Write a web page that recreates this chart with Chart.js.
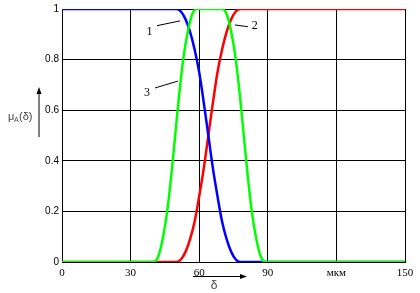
<!DOCTYPE html>
<html>
<head>
    <title>Membership functions</title>
    <script src="https://cdn.jsdelivr.net/npm/chart.js"></script>
    <style>
        body { margin: 0; background: #fff; }
        #wrap { width: 420px; height: 293px; }
    </style>
</head>
<body>
<div id="wrap"><canvas id="muChart" width="420" height="293"></canvas></div>
<script>
    // curve 1 (blue)
    const blueX = [0, 50, 52, 54, 56, 58, 60, 62, 64, 66, 68, 70, 72, 74, 76, 78, 150];
    const blueY = [1, 1, 0.99, 0.96, 0.91, 0.84, 0.75, 0.63, 0.5, 0.37, 0.26, 0.16, 0.09, 0.04, 0.01, 0, 0];
    // curve 2 (red)
    const redX = [0, 50, 52, 54, 56, 58, 60, 62, 64, 66, 68, 70, 72, 74, 76, 78, 150];
    const redY = [0, 0, 0.01, 0.04, 0.09, 0.16, 0.26, 0.37, 0.5, 0.63, 0.75, 0.84, 0.91, 0.96, 0.99, 1, 1];
    // curve 3 (green)
    const greenX = [0, 40, 42, 44, 46, 48, 49.5, 51, 53, 55, 57, 59, 70, 72, 74, 76, 78, 79.5, 81, 83, 85, 87, 89, 150];
    const greenY = [0, 0, 0.02, 0.09, 0.2, 0.36, 0.5, 0.64, 0.8, 0.91, 0.98, 1, 1, 0.98, 0.91, 0.8, 0.64, 0.5, 0.36, 0.2, 0.09, 0.02, 0, 0];

    const xTicks = [0, 30, 60, 90, 120, 150];
    const xTickLabels = ['0', '30', '60', '90', 'мкм', '150'];
    const yTicks = [0, 0.2, 0.4, 0.6, 0.8, 1];
    const yTickLabels = ['0', '0.2', '0.4', '0.6', '0.8', '1'];

    // curve labels with leader lines, in data units
    const curveNotes = [
        { text: '1', at: [38.3, 0.91], from: [41.5, 0.934], to: [51.6, 0.953] },
        { text: '2', at: [84.3, 0.935], from: [75.6, 0.937], to: [81.3, 0.93] },
        { text: '3', at: [37.2, 0.67], from: [40.7, 0.688], to: [50.7, 0.715] }
    ];

    const pts = (xs, ys) => xs.map((x, i) => ({ x: x, y: ys[i] }));

    const decor = {
        id: 'decor',
        afterDraw(chart) {
            const ctx = chart.ctx;
            const sx = chart.scales.x, sy = chart.scales.y;
            ctx.save();
            ctx.strokeStyle = '#000';
            ctx.fillStyle = '#000';
            ctx.lineWidth = 1;
            ctx.font = '12px "Liberation Serif"';
            ctx.textAlign = 'center';
            ctx.textBaseline = 'middle';
            curveNotes.forEach(n => {
                ctx.beginPath();
                ctx.moveTo(sx.getPixelForValue(n.from[0]), sy.getPixelForValue(n.from[1]));
                ctx.lineTo(sx.getPixelForValue(n.to[0]), sy.getPixelForValue(n.to[1]));
                ctx.stroke();
                ctx.fillText(n.text, sx.getPixelForValue(n.at[0]), sy.getPixelForValue(n.at[1]));
            });

            // y axis title with arrow
            ctx.fillStyle = '#444';
            ctx.textAlign = 'left';
            ctx.font = '11px "Liberation Sans"';
            ctx.fillText('μ', 8, 117);
            ctx.font = '7px "Liberation Sans"';
            ctx.fillText('A', 14, 120);
            ctx.font = '11px "Liberation Sans"';
            ctx.fillText('(δ)', 19, 117);
            ctx.fillStyle = '#000';
            ctx.beginPath();
            ctx.moveTo(39, 137);
            ctx.lineTo(39, 90);
            ctx.stroke();
            ctx.beginPath();
            ctx.moveTo(39, 87);
            ctx.lineTo(36.5, 94);
            ctx.lineTo(41.5, 94);
            ctx.closePath();
            ctx.fill();

            // x axis title with arrow
            ctx.beginPath();
            ctx.moveTo(193, 276.5);
            ctx.lineTo(242, 276.5);
            ctx.stroke();
            ctx.beginPath();
            ctx.moveTo(247, 276.5);
            ctx.lineTo(240, 274);
            ctx.lineTo(240, 279);
            ctx.closePath();
            ctx.fill();
            ctx.fillStyle = '#444';
            ctx.textAlign = 'center';
            ctx.font = '12px "Liberation Sans"';
            ctx.fillText('δ', 214, 286);
            ctx.restore();
        }
    };

    new Chart(document.getElementById('muChart').getContext('2d'), {
        type: 'line',
        data: {
            datasets: [
                { label: '3', data: pts(greenX, greenY), borderColor: '#00ff00', borderWidth: 2.5, pointRadius: 0, cubicInterpolationMode: 'monotone', fill: false },
                { label: '1', data: pts(blueX, blueY), borderColor: '#0000ff', borderWidth: 2.5, pointRadius: 0, cubicInterpolationMode: 'monotone', fill: false },
                { label: '2', data: pts(redX, redY), borderColor: '#ff0000', borderWidth: 2.5, pointRadius: 0, cubicInterpolationMode: 'monotone', fill: false }
            ]
        },
        options: {
            responsive: false,
            animation: false,
            layout: { padding: { top: 6, right: 15, left: 0, bottom: 0 } },
            plugins: { legend: { display: false }, tooltip: { enabled: false } },
            scales: {
                x: {
                    type: 'linear',
                    min: 0, max: 150,
                    afterBuildTicks: s => { s.ticks = xTicks.map(v => ({ value: v })); },
                    afterFit: s => { s.height = 31; },
                    grid: { color: '#000', lineWidth: 1, drawTicks: false },
                    border: { color: '#000', width: 1 },
                    ticks: {
                        padding: 5,
                        color: '#000',
                        maxRotation: 0,
                        font: { family: '"Liberation Serif"', size: 11 },
                        callback: v => xTickLabels[xTicks.indexOf(v)]
                    }
                },
                y: {
                    min: 0, max: 1,
                    afterBuildTicks: s => { s.ticks = yTicks.map(v => ({ value: v })); },
                    afterFit: s => { s.width = 62; },
                    grid: { color: '#000', lineWidth: 1, drawTicks: false },
                    border: { color: '#000', width: 1 },
                    ticks: {
                        padding: 3,
                        color: '#000',
                        font: { family: '"Liberation Sans"', size: 10 },
                        callback: v => yTickLabels[yTicks.indexOf(v)]
                    }
                }
            }
        },
        plugins: [decor]
    });
</script>
</body>
</html>
